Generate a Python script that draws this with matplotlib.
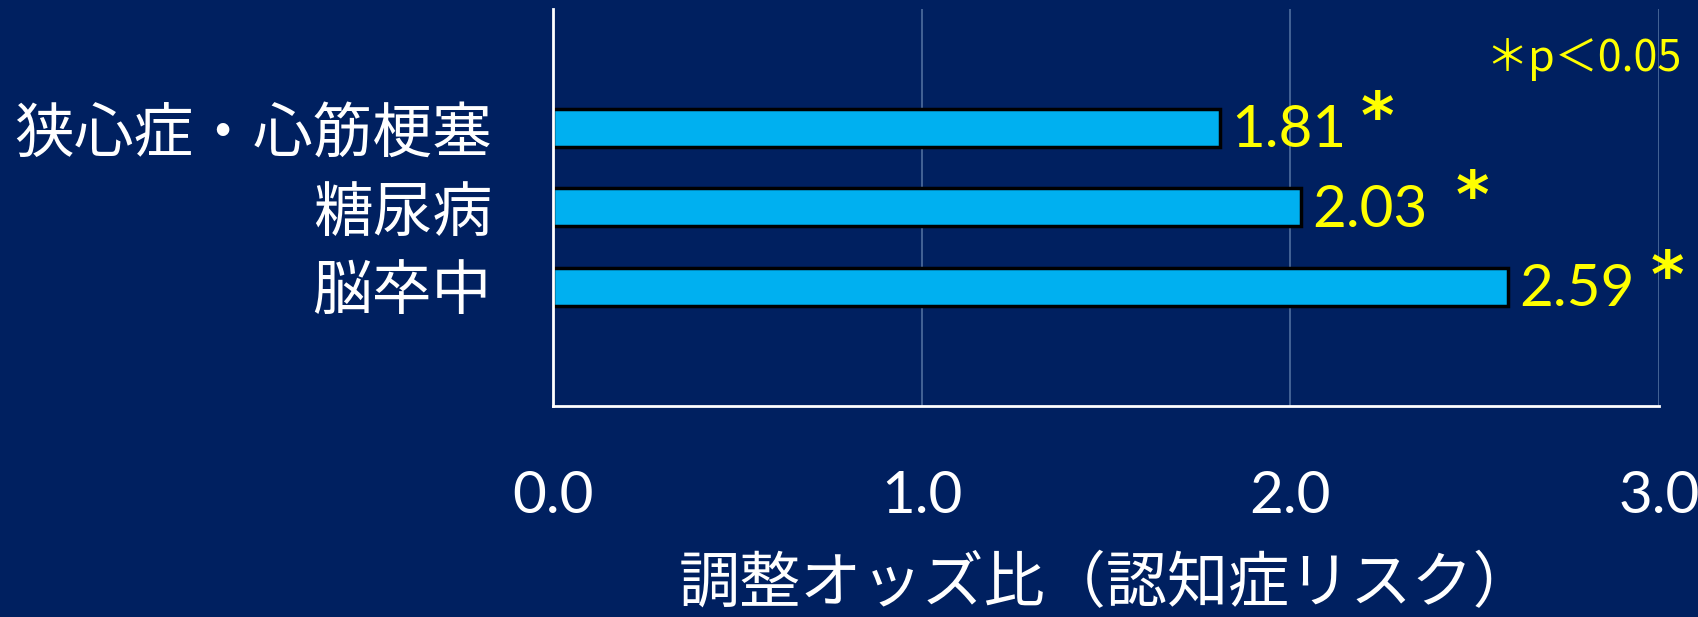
import matplotlib
matplotlib.use('Agg')
import matplotlib.pyplot as plt

# Data
categories = ['狭心症・心筋梗塞', '糖尿病', '脳卒中']
odds_ratios = [1.81, 2.03, 2.59]
value_labels = ['1.81', '2.03', '2.59']
xticks = [0.0, 1.0, 2.0, 3.0]
xtick_labels = ['0.0', '1.0', '2.0', '3.0']

bg = '#002060'
bar_color = '#00B0F0'
yellow = '#FFFF00'
jp = ['Noto Sans CJK JP', 'DejaVu Sans']
num = ['Lato', 'DejaVu Sans']

fig = plt.figure(figsize=(16.99, 6.17), dpi=100, facecolor=bg)
ax = fig.add_axes([0.3255, 0.342, 0.651, 0.6436], facecolor=bg)

ypos = list(range(len(categories)))
bars = ax.barh(ypos, odds_ratios, height=0.48, color=bar_color,
               edgecolor='black', linewidth=2.5, zorder=3)

ax.set_xlim(0, 3.0)
ax.set_ylim(3.5, -1.5)

ax.set_xticks(xticks)
ax.set_xticklabels(xtick_labels, fontfamily=num, fontsize=42, color='white')
ax.tick_params(axis='x', length=0, pad=46)
ax.set_yticks(ypos)
ax.set_yticklabels(categories, fontfamily=jp, fontsize=43, color='white')
ax.tick_params(axis='y', length=0, pad=44)

ax.grid(axis='x', color='#4F6E9E', linewidth=1.2, zorder=0)
for s in ['top', 'right']:
    ax.spines[s].set_visible(False)
for s in ['left', 'bottom']:
    ax.spines[s].set_color('white')
    ax.spines[s].set_linewidth(2)
    ax.spines[s].set_zorder(4)

# value labels with significance asterisks
star_gap = [10, 20, 12]
for y, v, lab, g in zip(ypos, odds_ratios, value_labels, star_gap):
    t = ax.annotate(lab, xy=(v, y), xytext=(8, -2), textcoords='offset points',
                    ha='left', va='center', fontfamily=num, fontsize=42,
                    color=yellow, zorder=5)
    ax.annotate('*', xy=(1, 1), xycoords=t, xytext=(g, 11),
                textcoords='offset points', ha='left', va='top',
                fontfamily='DejaVu Sans', fontsize=46, fontweight='bold',
                color=yellow, zorder=5)

fig.text(0.99, 0.905, '＊p＜0.05', ha='right', va='center',
         fontfamily=jp, fontsize=31, color=yellow)

ax.set_xlabel('調整オッズ比（認知症リスク）', fontfamily=jp, fontsize=44,
              color='white', labelpad=22)

fig.savefig('out.png', dpi=100, facecolor=bg)
